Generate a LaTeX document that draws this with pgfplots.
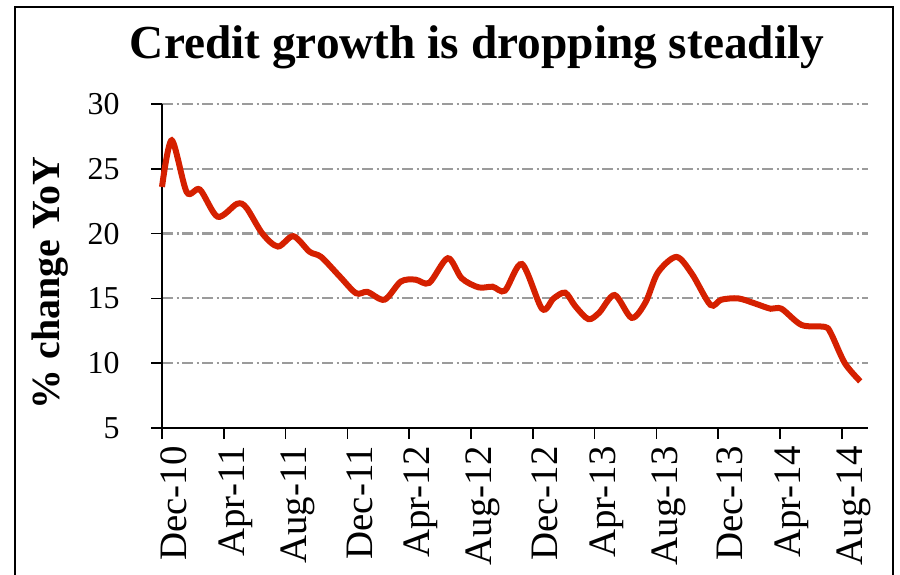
\documentclass[border=0pt]{standalone}
\usepackage{fontspec}
\setmainfont{Liberation Serif}
\usepackage{pgfplots}
\pgfplotsset{compat=1.18}
\definecolor{cred}{RGB}{213,32,0}
\definecolor{gridgray}{RGB}{155,155,155}
\begin{document}
\begin{tikzpicture}[x=1bp,y=1bp]
\begin{axis}[
  at={(162bp,147bp)}, anchor=south west,
  scale only axis, width=706bp, height=324bp,
  xmin=0, xmax=45.7, ymin=5, ymax=30,
  axis x line*=bottom, axis y line*=left,
  axis line style={line width=2bp, black},
  ytick={5,10,...,30},
  xtick={0,4,...,44},
  xticklabels={Dec-10,Apr-11,Aug-11,Dec-11,Apr-12,Aug-12,Dec-12,Apr-13,Aug-13,Dec-13,Apr-14,Aug-14},
  tick style={line width=1.5bp, black},
  major tick length=11bp,
  tick align=outside,
  ymajorgrids,
  grid style={gridgray, line width=2.2bp, dash pattern=on 11bp off 3.5bp on 2bp off 3.5bp},
  /pgf/number format/assume math mode=true,
  yticklabel style={font=\fontsize{32}{36}\selectfont, xshift=-28bp},
  xticklabel style={font=\fontsize{39}{42}\selectfont, xshift=12bp, yshift=-4bp, rotate=90, anchor=east},
  clip=false,
]
\addplot[cred, line width=6bp, smooth, tension=0.5] coordinates {
(0,23.6) (0.63,27.2) (1.6,23.2) (2.45,23.4) (3.6,21.3) (4.86,22.3) (5.46,22.0)
(6.5,20.0) (7.5,19.0) (8.5,19.8) (9.55,18.6) (10.3,18.2) (11.5,16.7) (12.56,15.4)
(13.3,15.5) (14.4,14.9) (15.46,16.3) (16.4,16.45) (17.3,16.2) (18.5,18.1) (19.4,16.55)
(20.5,15.85) (21.4,15.9) (22.2,15.6) (23.3,17.65) (24.6,14.2) (25.35,15.0) (26.1,15.44)
(26.75,14.4) (27.6,13.4) (28.3,13.9) (29.3,15.26) (30.4,13.5) (31.3,14.7) (32.1,17.0)
(33.3,18.2) (34.3,16.9) (35.5,14.5) (36.2,14.9) (37.3,15.0) (38.4,14.6) (39.4,14.2)
(40.1,14.2) (41.4,12.95) (42.9,12.8) (43.3,12.3) (44.2,10.0) (45.2,8.6)
};
\end{axis}
\draw[line width=2bp] (15,-20) rectangle (893,568);
\node[font=\fontsize{47.5}{50}\selectfont\bfseries] at (477,528) {Credit growth is dropping steadily};
\node[rotate=90,font=\fontsize{40}{44}\selectfont\bfseries] at (50,292) {\% change YoY};
\pgfresetboundingbox
\useasboundingbox (0,0) rectangle (900,575);
\end{tikzpicture}
\end{document}
